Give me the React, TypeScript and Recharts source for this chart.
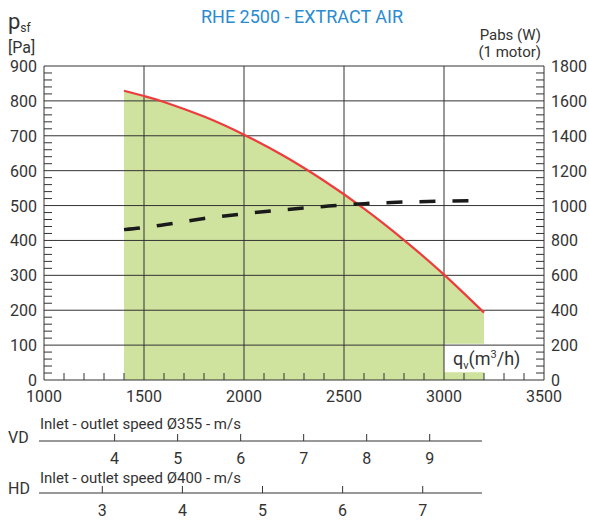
import React from "react";
import {
  ComposedChart,
  Area,
  Line,
  XAxis,
  YAxis,
  ReferenceLine,
  ReferenceArea,
} from "recharts";

// fan curve (static pressure, Pa)
const flowPressure = [1400, 1500, 1600, 1800, 2000, 2200, 2400, 2600, 2800, 3000, 3200];
const pressure = [829, 814, 797, 755, 703, 642, 571, 491, 401, 302, 193];

// absorbed power (W), 1 motor
const flowPower = [1400, 1500, 1600, 1800, 2000, 2200, 2400, 2600, 2800, 3000, 3165];
const power = [862, 874, 890, 926, 953, 976, 995, 1011, 1020, 1025, 1028];

const xTicks = Array.from({ length: 26 }, (_, i) => 1000 + i * 100);
const leftTicks = Array.from({ length: 46 }, (_, i) => i * 20);
const rightTicks = Array.from({ length: 46 }, (_, i) => i * 40);
const hGrid = [100, 200, 300, 400, 500, 600, 700, 800, 900];
const vGrid = [1500, 2000, 2500, 3000];

const vdTicks = [4, 5, 6, 7, 8, 9];
const hdTicks = [3, 4, 5, 6, 7];

const FONT = "Roboto, sans-serif";
const TEXT = "#333";
const LINE = "#333";

const rows = Array.from(new Set([...flowPressure, ...flowPower]))
  .sort((a, b) => a - b)
  .map((q) => {
    const i = flowPressure.indexOf(q);
    const j = flowPower.indexOf(q);
    return {
      q,
      psf: i >= 0 ? pressure[i] : undefined,
      pabs: j >= 0 ? power[j] : undefined,
    };
  });

const LeftTick = (props: any) => {
  const { x, y, payload } = props;
  const v = payload.value;
  if (v % 100 === 0) {
    return (
      <text x={x} y={y} dy={6} textAnchor="end" fontSize={16} fill={TEXT} fontFamily={FONT}>
        {v}
      </text>
    );
  }
  return <line x1={x + 7} x2={x + 15} y1={y} y2={y} stroke={LINE} />;
};

const RightTick = (props: any) => {
  const { x, y, payload } = props;
  const v = payload.value;
  if (v % 200 === 0) {
    return (
      <text x={x} y={y} dy={6} textAnchor="start" fontSize={16} fill={TEXT} fontFamily={FONT}>
        {v}
      </text>
    );
  }
  return <line x1={x - 7} x2={x - 15} y1={y} y2={y} stroke={LINE} />;
};

const BottomTick = (props: any) => {
  const { x, y, payload } = props;
  const v = payload.value;
  return (
    <g>
      {v % 500 !== 0 && <line x1={x} x2={x} y1={y} y2={y - 7} stroke={LINE} />}
      {v % 500 === 0 && (
        <text x={x} y={y + 22} textAnchor="middle" fontSize={16} fill={TEXT} fontFamily={FONT}>
          {v}
        </text>
      )}
    </g>
  );
};

const SpeedTick = (props: any) => {
  const { x, y, payload } = props;
  return (
    <g>
      <line x1={x} x2={x} y1={y} y2={y - 7} stroke={LINE} />
      <text x={x} y={y + 23} textAnchor="middle" fontSize={16} fill={TEXT} fontFamily={FONT}>
        {payload.value}
      </text>
    </g>
  );
};

const FlowLabel = (props: any) => {
  const { x, y, height } = props.viewBox;
  return (
    <text x={x + 9} y={y + height / 2 + 7} fontSize={18} fill={TEXT} fontFamily={FONT}>
      q
      <tspan fontSize={11} dy={4}>v</tspan>
      <tspan dy={-4}>(m</tspan>
      <tspan fontSize={11} dy={-7}>3</tspan>
      <tspan dy={7}>/h)</tspan>
    </text>
  );
};

const SpeedScale = ({ ticks, domain, top }: { ticks: number[]; domain: [number, number]; top: number }) => (
  <div style={{ position: "absolute", left: 0, top }}>
    <ComposedChart
      width={589}
      height={40}
      data={ticks.map((v) => ({ v }))}
      margin={{ top: 0, right: 107, left: 39, bottom: 0 }}
    >
      <XAxis
        dataKey="v"
        type="number"
        domain={domain}
        allowDataOverflow
        ticks={ticks}
        interval={0}
        height={30}
        tickSize={0}
        tickMargin={0}
        tick={<SpeedTick />}
        stroke={LINE}
      />
    </ComposedChart>
  </div>
);

export default function App() {
  return (
    <div
      style={{
        position: "absolute",
        left: 0,
        top: 0,
        width: 589,
        height: 522,
        background: "#fff",
        fontFamily: FONT,
      }}
    >
      <div style={{ position: "absolute", left: 0, top: 0 }}>
        <ComposedChart
          width={589}
          height={410}
          data={rows}
          margin={{ top: 66, right: 0, left: 0, bottom: 0 }}
        >
          <XAxis
            dataKey="q"
            type="number"
            domain={[1000, 3500]}
            ticks={xTicks}
            interval={0}
            height={30}
            tickSize={0}
            tickMargin={0}
            tick={<BottomTick />}
            stroke={LINE}
          />
          <YAxis
            yAxisId="left"
            domain={[0, 900]}
            ticks={leftTicks}
            interval={0}
            width={44}
            tickSize={0}
            tickMargin={7}
            tick={<LeftTick />}
            stroke={LINE}
          />
          <YAxis
            yAxisId="right"
            orientation="right"
            domain={[0, 1800]}
            ticks={rightTicks}
            interval={0}
            width={45}
            tickSize={0}
            tickMargin={7}
            tick={<RightTick />}
            stroke={LINE}
          />
          <Area
            yAxisId="left"
            type="natural"
            dataKey="psf"
            stroke="none"
            fill="#cfe29e"
            fillOpacity={1}
            connectNulls
            isAnimationActive={false}
          />
          {hGrid.map((v) => (
            <ReferenceLine key={"h" + v} yAxisId="left" y={v} stroke={LINE} strokeWidth={1} />
          ))}
          {vGrid.map((v) => (
            <ReferenceLine key={"v" + v} yAxisId="left" x={v} stroke={LINE} strokeWidth={1} />
          ))}
          <ReferenceArea
            yAxisId="left"
            x1={3000}
            x2={3390}
            y1={22}
            y2={104}
            fill="#fff"
            fillOpacity={1}
            stroke="none"
            label={<FlowLabel />}
          />
          <Line
            yAxisId="left"
            type="natural"
            dataKey="psf"
            stroke="#ee3b3b"
            strokeWidth={2.2}
            dot={false}
            connectNulls
            isAnimationActive={false}
          />
          <Line
            yAxisId="right"
            type="monotone"
            dataKey="pabs"
            stroke="#1a1a1a"
            strokeWidth={3.5}
            strokeDasharray="16 17"
            dot={false}
            connectNulls
            isAnimationActive={false}
          />
        </ComposedChart>
      </div>

      <SpeedScale ticks={vdTicks} domain={[2.8, 9.83]} top={431} />
      <SpeedScale ticks={hdTicks} domain={[2.21, 7.74]} top={483} />

      <svg
        width={589}
        height={522}
        style={{ position: "absolute", left: 0, top: 0, pointerEvents: "none" }}
      >
        <text x={302} y={23} textAnchor="middle" fontSize={18} fill="#2a8bd0" fontFamily={FONT}>
          RHE 2500 - EXTRACT AIR
        </text>
        <text x={8} y={29} fontSize={22} fill={TEXT} fontFamily={FONT}>
          p<tspan fontSize={12} dy={3}>sf</tspan>
        </text>
        <text x={8} y={53} fontSize={16} fill={TEXT} fontFamily={FONT}>
          [Pa]
        </text>
        <text x={541} y={40} textAnchor="end" fontSize={15} fill={TEXT} fontFamily={FONT}>
          Pabs (W)
        </text>
        <text x={541} y={57} textAnchor="end" fontSize={15} fill={TEXT} fontFamily={FONT}>
          (1 motor)
        </text>
        <text x={40} y={429} fontSize={15} fill={TEXT} fontFamily={FONT}>
          Inlet - outlet speed Ø355 - m/s
        </text>
        <text x={8} y={443} fontSize={16} fill={TEXT} fontFamily={FONT}>
          VD
        </text>
        <text x={40} y={483} fontSize={15} fill={TEXT} fontFamily={FONT}>
          Inlet - outlet speed Ø400 - m/s
        </text>
        <text x={8} y={494} fontSize={16} fill={TEXT} fontFamily={FONT}>
          HD
        </text>
      </svg>
    </div>
  );
}
